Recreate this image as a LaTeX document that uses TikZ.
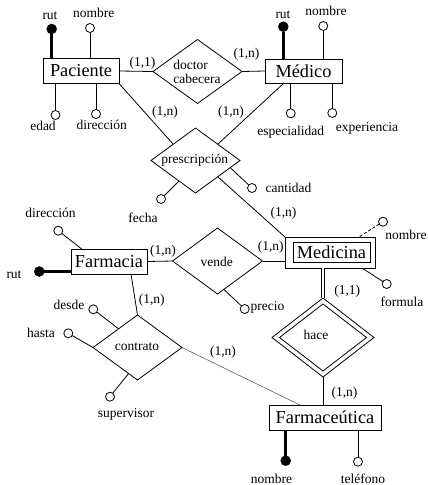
\documentclass[tikz,border=0pt]{standalone}
\usepackage{fontspec}
\setmainfont{Liberation Serif}
\usetikzlibrary{shapes.geometric,calc}

\begin{document}
\begin{tikzpicture}[x=1pt,y=-1pt,
  every node/.style={outer sep=0pt},
  entity/.style={draw, line width=0.8pt, inner sep=0pt, font=\fontsize{18.3}{20}\selectfont},
  rel/.style={draw, diamond, inner sep=0pt, line width=0.8pt},
  attr/.style={draw, circle, inner sep=0pt, minimum size=9pt, line width=0.8pt, fill=white},
  keyattr/.style={draw, circle, fill=black, inner sep=0pt, minimum size=10pt},
  lbl/.style={inner sep=0pt, anchor=base, font=\fontsize{13.5}{15}\selectfont},
  conn/.style={line width=0.8pt},
  keyline/.style={line width=3pt},
  weakconn/.style={line width=0.5pt, black!70},
]
\useasboundingbox (0,0) rectangle (428,485);

% ---------- entities ----------
\node[entity, minimum width=76pt, minimum height=25pt] (pac) at (81,71) {Paciente};
\node[entity, minimum width=77pt, minimum height=24pt] (med) at (303.5,71) {Médico};
\node[entity, minimum width=76pt, minimum height=25pt] (farm) at (109,261.5) {Farmacia};
\node[entity, minimum width=90pt, minimum height=31pt] (medi) at (330,252.5) {};
\node[entity, minimum width=77pt, minimum height=20pt] (medi-in) at (331.5,252) {Medicina};
\node[entity, minimum width=112pt, minimum height=25pt] (farmc) at (325,417.5) {Farmaceútica};

% ---------- relationships ----------
\node[rel, minimum width=89pt, minimum height=64pt] (doc) at (197.5,71.5) {};
\node[rel, minimum width=89pt, minimum height=65pt] (pres) at (195.5,160.5) {};
\node[rel, minimum width=90pt, minimum height=66pt] (vende) at (217.5,261) {};
\node[rel, minimum width=89pt, minimum height=65pt] (contr) at (137.5,347.5) {};
\node[rel, minimum width=102pt, minimum height=79pt] (hace) at (323,337.5) {};
\node[rel, minimum width=87pt, minimum height=67pt] (hace-in) at (323,337.5) {};

\node[lbl, anchor=base west] (doc-t1) at (173.3,69.3) {doctor};
\node[lbl, anchor=base west] (doc-t2) at (173.3,83.3) {cabecera};
\node[lbl] (pres-t) at (194.7,163) {prescripción};
\node[lbl] (vende-t) at (216.7,266) {vende};
\node[lbl] (contr-t) at (137,350.5) {contrato};
\node[lbl] (hace-t) at (316,339.5) {hace};

% ---------- connectors ----------
\draw[conn] (pac.east) -- (doc.west);
\draw[conn] (doc.east) -- (med.west);
\draw[conn] (pac.south east) -- (pres.north west);
\draw[conn] ([xshift=19pt]med.south west) -- (pres.north east);
\draw[conn] (pres.south east) -- (medi.north west);
\draw[conn] (farm.east) -- (vende.west);
\draw[conn] (vende.east) -- (vende.east -| medi.west);
\draw[conn] ([xshift=60pt]farm.south west) -- (contr.north);
\draw[double, double distance=2pt, line width=0.6pt] (hace.north |- medi.south) -- (hace.north);
\draw[conn] (hace.south) -- (hace.south |- farmc.north);
\draw[weakconn] (contr.east) -- ([xshift=31pt]farmc.north west);

% ---------- cardinalities ----------
\node[lbl] (c-pac-doc) at (142.5,66) {(1,1)};
\node[lbl] (c-med-doc) at (246.5,57) {(1,n)};
\node[lbl] (c-pac-pres) at (165,115) {(1,n)};
\node[lbl] (c-med-pres) at (231,115) {(1,n)};
\node[lbl] (c-medi-pres) at (283.5,216) {(1,n)};
\node[lbl] (c-farm-vende) at (163,254) {(1,n)};
\node[lbl] (c-farm-contr) at (151.7,303) {(1,n)};
\node[lbl] (c-medi-vende) at (270.7,250) {(1,n)};
\node[lbl] (c-medi-hace) at (347.3,294) {(1,1)};
\node[lbl] (c-farmc-hace) at (344.5,396) {(1,n)};
\node[lbl] (c-farmc-contr) at (223,355) {(1,n)};

% ---------- Paciente attributes ----------
\node[keyattr] (pac-rut) at (51.7,29) {};
\node[attr] (pac-nom) at (90,28) {};
\node[attr] (pac-eda) at (55.5,115) {};
\node[attr] (pac-dir) at (96,114) {};
\draw[keyline] (pac-rut) -- (pac-rut |- pac.north);
\draw[conn] (pac-nom) -- (pac-nom |- pac.north);
\draw[conn] (pac-eda) -- (pac-eda |- pac.south);
\draw[conn] (pac-dir) -- (pac-dir |- pac.south);
\node[lbl] (pac-rut-t) at (50,19.5) {rut};
\node[lbl] (pac-nom-t) at (93.7,17.7) {nombre};
\node[lbl] (pac-eda-t) at (43,130.5) {edad};
\node[lbl] (pac-dir-t) at (101.7,129.3) {dirección};

% ---------- Médico attributes ----------
\node[keyattr] (med-rut) at (283.3,26.7) {};
\node[attr] (med-nom) at (323.3,26) {};
\node[attr] (med-esp) at (290.7,113.3) {};
\node[attr] (med-exp) at (332.3,113) {};
\draw[keyline] (med-rut) -- (med-rut |- med.north);
\draw[conn] (med-nom) -- (med-nom |- med.north);
\draw[conn] (med-esp) -- (med-esp |- med.south);
\draw[conn] (med-exp) -- (med-exp |- med.south);
\node[lbl] (med-rut-t) at (283,18.3) {rut};
\node[lbl] (med-nom-t) at (326,15.7) {nombre};
\node[lbl] (med-esp-t) at (290.7,135) {especialidad};
\node[lbl] (med-exp-t) at (367,131) {experiencia};

% ---------- prescripción attributes ----------
\node[attr] (pres-fec) at (161,199) {};
\node[attr] (pres-can) at (252,188) {};
\draw[conn] (pres-fec) -- ($(pres.west)!0.63!(pres.south)$);
\draw[conn] (pres-can) -- ($(pres.east)!0.22!(pres.south)$);
\node[lbl] (pres-fec-t) at (143,222) {fecha};
\node[lbl] (pres-can-t) at (288.5,192) {cantidad};

% ---------- Farmacia attributes ----------
\node[keyattr] (farm-rut) at (39.3,271.5) {};
\node[attr] (farm-dir) at (58.3,230.7) {};
\draw[keyline] (farm-rut) -- (farm-rut -| farm.west);
\draw[conn] (farm-dir) -- ([xshift=10.7pt]farm.north west);
\node[lbl] (farm-rut-t) at (14,278) {rut};
\node[lbl] (farm-dir-t) at (50.5,217) {dirección};

% ---------- vende attribute ----------
\node[attr] (vende-pre) at (244.7,309) {};
\draw[conn] (vende-pre) -- ($(vende.east)!0.86!(vende.south)$);
\node[lbl] (vende-pre-t) at (267.5,310) {precio};

% ---------- contrato attributes ----------
\node[attr] (contr-des) at (93.3,309.3) {};
\node[attr] (contr-has) at (68.3,333.3) {};
\node[attr] (contr-sup) at (110,396.7) {};
\draw[conn] (contr-des) -- ($(contr.west)!0.575!(contr.north)$);
\draw[conn] (contr-has) -- (contr.west);
\draw[conn] (contr-sup) -- ($(contr.west)!0.8!(contr.south)$);
\node[lbl] (contr-des-t) at (69,309) {desde};
\node[lbl] (contr-has-t) at (41,337) {hasta};
\node[lbl] (contr-sup-t) at (126,417) {supervisor};

% ---------- Medicina attributes ----------
\node[attr] (medi-nom) at (383,221.7) {};
\node[attr] (medi-for) at (386.7,284) {};
\draw[conn, dash pattern=on 3pt off 2pt] (medi-nom) -- ([xshift=74pt]medi.north west);
\draw[conn] (medi-for) -- ([xshift=77pt]medi.south west);
\node[lbl] (medi-nom-t) at (406,239.5) {nombre};
\node[lbl] (medi-for-t) at (402,306) {formula};

% ---------- Farmaceútica attributes ----------
\node[keyattr] (farmc-nom) at (285.7,460.7) {};
\node[attr] (farmc-tel) at (358,461.7) {};
\draw[keyline] (farmc-nom) -- (farmc-nom |- farmc.south);
\draw[conn] (farmc-tel) -- (farmc-tel |- farmc.south);
\node[lbl] (farmc-nom-t) at (271.5,483.5) {nombre};
\node[lbl] (farmc-tel-t) at (363,483.5) {teléfono};

\end{tikzpicture}
\end{document}
